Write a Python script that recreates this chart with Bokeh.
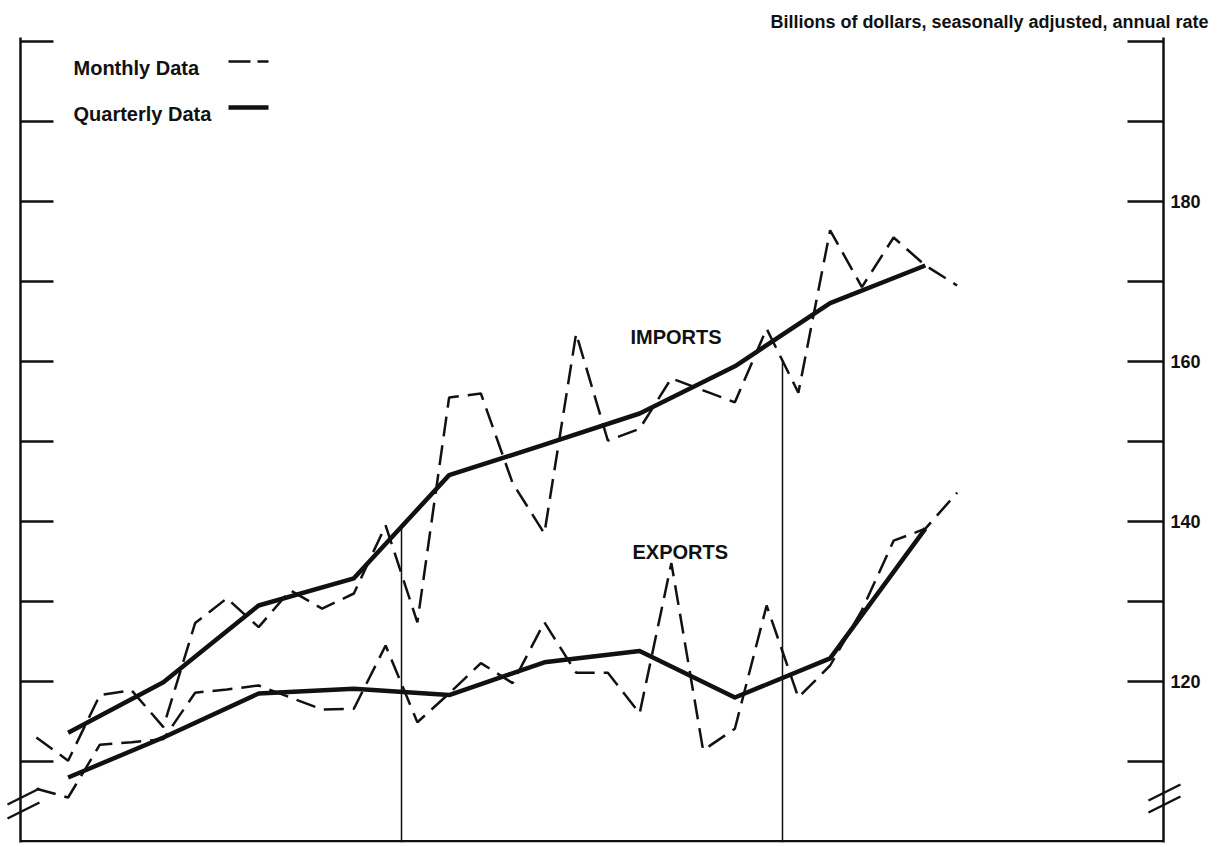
import numpy as np
from bokeh.plotting import figure
from bokeh.models import Range1d, LinearAxis, FixedTicker, Span, Label
from bokeh.core.properties import value
from bokeh.embed import file_html
from bokeh.resources import INLINE

# ---------------- data (billions of dollars, SAAR) ----------------
months = list(range(30))          # month index from start of first year
quarters = list(range(10))        # quarter index
imports_monthly = [113.0, 110.1, 118.3, 118.9, 114.3, 127.3, 130.4, 126.8, 131.4, 129.1,
                   131.0, 139.5, 127.4, 155.5, 156.0, 144.8, 138.5, 163.5, 150.1, 151.6,
                   157.9, 156.4, 154.9, 164.1, 156.1, 176.4, 169.3, 175.5, 172.0, 169.5]
exports_monthly = [106.6, 105.5, 112.1, 112.4, 112.8, 118.6, 119.0, 119.5, 118.0, 116.5,
                   116.6, 124.5, 114.9, 118.5, 122.3, 119.8, 127.4, 121.1, 121.1, 116.0,
                   134.8, 111.4, 114.1, 129.5, 118.0, 122.0, 128.9, 137.6, 139.1, 143.6]
imports_quarterly = [113.6, 119.9, 129.5, 132.9, 145.8, 149.6, 153.5, 159.4, 167.3, 172.0]
exports_quarterly = [108.0, 113.0, 118.5, 119.1, 118.3, 122.4, 123.8, 118.0, 122.9, 139.1]
tick_values = [110, 120, 130, 140, 150, 160, 170, 180, 190, 200]
labelled_ticks = [120, 140, 160, 180]
year_boundaries = [12, 24]

month_x = [m + 0.5 for m in months]
quarter_x = [3 * q + 1.5 for q in quarters]

# ---------------- layout ----------------
W, H = 1222, 845
FL, FT, FW, FH = 20, 37, 1143, 805      # frame position on the canvas (px)
X0, X1 = 0, 36
Y1 = 200.5
Y0 = Y1 - FH / 8.0


def px2x(px):
    return X0 + (px - FL) / FW * (X1 - X0)


def py2y(py):
    return Y1 - (py - FT) / FH * (Y1 - Y0)


INK = "#111111"
FONT = "Liberation Sans"

p = figure(frame_width=FW, frame_height=FH,
           x_range=Range1d(X0, X1), y_range=Range1d(Y0, Y1),
           x_axis_type=None, y_axis_location="left",
           output_backend="svg", toolbar_location=None,
           min_border_left=FL, min_border_right=W - FL - FW,
           min_border_top=FT, min_border_bottom=H - FT - FH,
           background_fill_color="white", border_fill_color="white")
p.outline_line_color = None
p.grid.grid_line_color = None

# left axis: ticks only (drawn as minor ticks of an empty major set)
la = p.yaxis[0]
la.ticker = FixedTicker(ticks=[], minor_ticks=tick_values)
la.minor_tick_in = 33
la.minor_tick_out = 0
la.minor_tick_line_width = 2.5
la.minor_tick_line_color = INK
la.major_tick_line_color = None
la.axis_line_width = 2.5
la.axis_line_color = INK

# right axis: labels every 20, ticks every 10
unlabelled = [v for v in tick_values if v not in labelled_ticks]
ra = LinearAxis(ticker=FixedTicker(ticks=labelled_ticks, minor_ticks=unlabelled))
ra.major_tick_in = 36
ra.major_tick_out = 0
ra.minor_tick_in = 36
ra.minor_tick_out = 0
ra.axis_line_width = 2.5
ra.axis_line_color = INK
ra.major_tick_line_width = 2.5
ra.major_tick_line_color = INK
ra.minor_tick_line_width = 2.5
ra.minor_tick_line_color = INK
ra.major_label_standoff = 7
ra.major_label_text_font = FONT
ra.major_label_text_font_style = "bold"
ra.major_label_text_font_size = "18px"
ra.major_label_text_color = INK
p.add_layout(ra, "right")

# bottom line
p.add_layout(Span(location=Y0 + 0.15, dimension="width", line_color=INK, line_width=2.5))

# year separators, reaching up to the imports curves
tops = [float(np.interp(year_boundaries[0], quarter_x, imports_quarterly)),
        float(np.interp(year_boundaries[1], month_x, imports_monthly))]
p.segment(x0=year_boundaries, y0=[Y0] * 2, x1=year_boundaries, y1=tops,
          line_color=INK, line_width=1.5)

# series
DASH = "20 9"
p.line(month_x, imports_monthly, line_color=INK, line_width=2.5, line_dash=DASH)
p.line(month_x, exports_monthly, line_color=INK, line_width=2.5, line_dash=DASH)
p.line(quarter_x, imports_quarterly, line_color=INK, line_width=4.5, line_join="round")
p.line(quarter_x, exports_quarterly, line_color=INK, line_width=4.5, line_join="round")

# legend (manual: label then sample)
for txt, py in [("Monthly Data", 67), ("Quarterly Data", 113)]:
    p.add_layout(Label(x=px2x(73), y=py2y(py), text=txt, text_font=FONT,
                       text_font_style="bold", text_font_size="20px", text_color=INK,
                       text_baseline="alphabetic"))
p.line([px2x(228), px2x(268)], [py2y(61), py2y(61)], line_color=INK, line_width=2.5,
       line_dash="22 7")
p.line([px2x(228), px2x(268)], [py2y(107), py2y(107)], line_color=INK, line_width=4.5)

# series labels
p.add_layout(Label(x=px2x(630), y=py2y(336), text="IMPORTS", text_font=FONT,
                   text_font_style="bold", text_font_size="20px", text_color=INK,
                   text_baseline="alphabetic"))
p.add_layout(Label(x=px2x(632), y=py2y(551), text="EXPORTS", text_font=FONT,
                   text_font_style="bold", text_font_size="20px", text_color=INK,
                   text_baseline="alphabetic"))

# header (drawn at overlay level so it is not clipped to the frame)
p.text(x=[px2x(1208)], y=[py2y(21)], text=["Billions of dollars, seasonally adjusted, annual rate"],
       text_font=value(FONT), text_font_style="bold", text_font_size="18px",
       text_color=INK, text_align="right", text_baseline="alphabetic", level="overlay")

# axis break marks (overlay level, crossing the axis lines)
marks = [(23, 796), (23, 810), (1164, 792), (1164, 804)]
p.segment(x0=[px2x(cx - 16) for cx, cy in marks], y0=[py2y(cy + 8) for cx, cy in marks],
          x1=[px2x(cx + 16) for cx, cy in marks], y1=[py2y(cy - 8) for cx, cy in marks],
          line_color=INK, line_width=2.5, level="overlay")

open("out.html", "w").write(file_html(p, INLINE))
